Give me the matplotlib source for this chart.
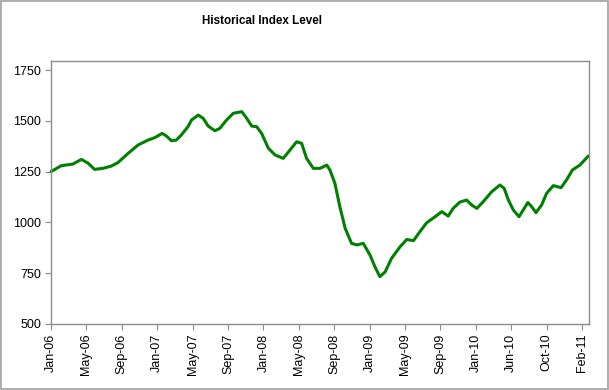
import matplotlib
matplotlib.use("Agg")
import matplotlib.pyplot as plt
from matplotlib.patches import Rectangle

# positions along the category axis, in units of one tick interval
pos = [0.00, 0.29, 0.62, 0.71, 0.86, 1.05, 1.23, 1.47, 1.70, 1.89,
       2.18, 2.46, 2.74, 2.93, 3.14, 3.26, 3.40, 3.54, 3.68, 3.87,
       3.97, 4.16, 4.30, 4.44, 4.63, 4.77, 4.96, 5.15, 5.39, 5.53,
       5.67, 5.81, 5.95, 6.14, 6.33, 6.56, 6.75, 6.94, 7.08, 7.22,
       7.41, 7.60, 7.79, 7.88, 8.02, 8.16, 8.31, 8.49, 8.64, 8.82,
       9.01, 9.15, 9.29, 9.44, 9.62, 9.86, 10.05, 10.24, 10.42, 10.61,
       10.85, 11.04, 11.22, 11.36, 11.55, 11.74, 11.88, 12.03, 12.21, 12.45,
       12.68, 12.80, 12.92, 13.06, 13.22, 13.34, 13.47, 13.58, 13.70, 13.86,
       14.00, 14.19, 14.41, 14.57, 14.73, 14.94, 15.18]
level = [1250, 1279, 1287, 1296, 1310, 1291, 1261, 1266, 1277, 1294,
         1340, 1381, 1405, 1417, 1438, 1425, 1402, 1405, 1430, 1471,
         1504, 1528, 1512, 1474, 1451, 1463, 1504, 1537, 1545, 1512,
         1474, 1471, 1438, 1365, 1332, 1315, 1356, 1397, 1389, 1315,
         1266, 1266, 1282, 1258, 1192, 1077, 971, 897, 889, 897,
         840, 782, 733, 757, 823, 880, 916, 910, 954, 998,
         1028, 1053, 1031, 1069, 1100, 1110, 1086, 1069, 1102, 1151,
         1184, 1168, 1110, 1061, 1028, 1061, 1098, 1077, 1048, 1086,
         1143, 1181, 1171, 1211, 1258, 1282, 1327]

tick_labels = ["Jan-06", "May-06", "Sep-06", "Jan-07", "May-07", "Sep-07",
               "Jan-08", "May-08", "Sep-08", "Jan-09", "May-09", "Sep-09",
               "Jan-10", "Jun-10", "Oct-10", "Feb-11"]
y_ticks = [500, 750, 1000, 1250, 1500, 1750]

plt.rcParams["font.family"] = ["Liberation Sans", "DejaVu Sans"]
plt.rcParams["font.size"] = 9

fig = plt.figure(figsize=(6.09, 3.90), dpi=100, facecolor="white")
ax = fig.add_axes([51 / 609, 1 - 324 / 390, 538 / 609, 263 / 390])

ax.plot(pos, level, color="#008000", linewidth=2.2,
        solid_joinstyle="round", solid_capstyle="round", clip_on=False)

ax.set_xlim(0, 538 / 35.4)
ax.set_ylim(500, 500 + 263 * 1250 / 254)
ax.set_xticks(range(len(tick_labels)))
ax.set_xticklabels(tick_labels, rotation=90)
ax.set_yticks(y_ticks)
ax.set_yticklabels([str(v) for v in y_ticks])

for side in ax.spines.values():
    side.set_color("#8c8c8c")
    side.set_linewidth(1.0)
ax.tick_params(axis="both", direction="out", length=4, width=0.8,
               color="#8c8c8c", labelcolor="black", labelsize=9, pad=3)

fig.text(262 / 609, 1 - 21 / 390, "Historical Index Level",
         ha="center", va="center", fontsize=8.4, fontweight="bold")

fig.patches.append(Rectangle((0.002, 0.002), 0.996, 0.995,
                             transform=fig.transFigure, fill=False,
                             edgecolor="#a0a0a0", linewidth=1.2))

fig.savefig("out.png", dpi=100, facecolor="white")
plt.close(fig)
